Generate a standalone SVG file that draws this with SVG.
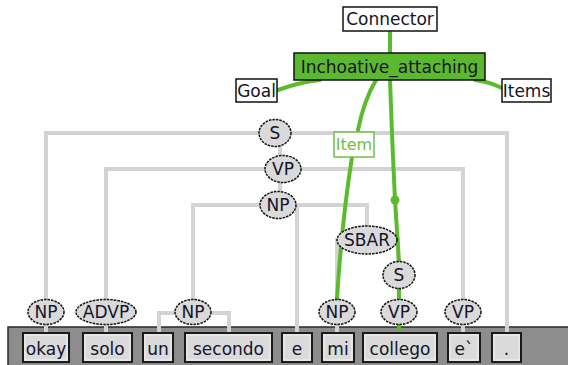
<svg xmlns="http://www.w3.org/2000/svg" width="568" height="365" viewBox="0 0 568 365">
<style>
text{font-family:"DejaVu Sans","Liberation Sans",sans-serif;fill:#14142a;text-anchor:middle}
.lbl{font-size:17px}
.cat{font-size:17px}
.box{fill:#fff;stroke:#111;stroke-width:1.5}
.word{fill:#dadada;stroke:#1a1a1a;stroke-width:2}
.inner{fill:none;stroke:#f2f2f2;stroke-width:1}
.ell{fill:#dadada;stroke:#111;stroke-width:1.5;stroke-dasharray:2.5 1}
.tree{fill:none;stroke:#d3d3d3;stroke-width:4}
.green{fill:none;stroke:#5cbb2c;stroke-width:4;stroke-linecap:round}
</style>
<rect width="568" height="365" fill="#fff"/>
<g id="band"><rect x="8" y="327" width="562" height="40" fill="#8d8d8d"/><path d="M8 366 V327 H568" fill="none" stroke="#2a2a2a" stroke-width="1.5"/></g>
<g id="tree-connectors">
<path class="tree" d="M46 300 V133 H507 V333"/>
<path class="tree" d="M106 300 V169 H463 V300"/>
<path class="tree" d="M193 300 V205 H367 V228"/>
<path class="tree" d="M297 205 V333"/>
<path class="tree" d="M280 133 V205"/>
<path class="tree" d="M337 300 V240 H398 V262"/>
<path class="tree" d="M159 333 V313 H229 V333"/>
<path class="tree" d="M399 275 V333"/>
<path class="tree" d="M46 312 V333 M106 312 V333 M337 312 V333 M463 312 V333"/>
</g>
<g id="frame-connectors">
<path class="green" d="M390 30 V53"/>
<path class="green" d="M320 80 Q300 82 278 90"/>
<path class="green" d="M475 80 Q490 82 502 88"/>
<path class="green" d="M376 80 Q364 100 358 130"/>
<path class="green" d="M352 157 Q342 220 337 299"/>
<path class="green" d="M390 80 Q392 140 395 200 L399 262"/>
<path class="green" d="M399 288 V299 M399 325 V333"/>
<circle cx="395" cy="200" r="4.5" fill="#5cbb2c"/>
</g>
<g id="connector"><rect class="box" x="343" y="7" width="94" height="24"/><text class="lbl" x="390" y="25">Connector</text></g>
<g id="frame"><rect x="294" y="53" width="191" height="27" fill="#5cb82e" stroke="#111" stroke-width="1.5"/><text class="lbl" x="389.5" y="73">Inchoative_attaching</text></g>
<g id="goal"><rect class="box" x="236" y="79" width="41" height="23"/><text class="lbl" x="256.5" y="97">Goal</text></g>
<g id="items"><rect class="box" x="502" y="79" width="49" height="23"/><text class="lbl" x="526.5" y="97">Items</text></g>
<g id="item"><rect x="334" y="132" width="40" height="25" fill="#fff" stroke="#6cc04a" stroke-width="1.5"/><text class="cat" x="354" y="150" style="fill:#6cc04a;font-size:16px">Item</text></g>
<g id="n-S"><ellipse class="ell" cx="275" cy="133" rx="16" ry="13.5"/><text class="cat" x="275" y="139">S</text></g>
<g id="n-VP"><ellipse class="ell" cx="283" cy="169" rx="18" ry="13.5"/><text class="cat" x="283" y="175">VP</text></g>
<g id="n-NP"><ellipse class="ell" cx="278" cy="205" rx="18" ry="13.5"/><text class="cat" x="278" y="211">NP</text></g>
<g id="n-SBAR"><ellipse class="ell" cx="367" cy="240" rx="30" ry="14"/><text class="cat" x="367" y="246">SBAR</text></g>
<g id="n-S2"><ellipse class="ell" cx="399" cy="275" rx="16" ry="13.5"/><text class="cat" x="399" y="281">S</text></g>
<g id="n-NP1"><ellipse class="ell" cx="46" cy="312" rx="18" ry="12.5"/><text class="cat" x="46" y="318">NP</text></g>
<g id="n-ADVP"><ellipse class="ell" cx="106" cy="312" rx="30" ry="12.5"/><text class="cat" x="106" y="318">ADVP</text></g>
<g id="n-NP2"><ellipse class="ell" cx="193" cy="312" rx="18" ry="12.5"/><text class="cat" x="193" y="318">NP</text></g>
<g id="n-NP3"><ellipse class="ell" cx="337" cy="312" rx="18" ry="12.5"/><text class="cat" x="337" y="318">NP</text></g>
<g id="n-VP2"><ellipse class="ell" cx="399" cy="312" rx="18" ry="12.5"/><text class="cat" x="399" y="318">VP</text></g>
<g id="n-VP3"><ellipse class="ell" cx="463" cy="312" rx="18" ry="12.5"/><text class="cat" x="463" y="318">VP</text></g>
<g id="w-okay"><rect class="word" x="23" y="333" width="46" height="29"/><rect class="inner" x="25" y="335" width="42" height="25"/><text class="lbl" x="46" y="355">okay</text></g>
<g id="w-solo"><rect class="word" x="83" y="333" width="49" height="29"/><rect class="inner" x="85" y="335" width="45" height="25"/><text class="lbl" x="107.5" y="355">solo</text></g>
<g id="w-un"><rect class="word" x="143" y="333" width="30" height="29"/><rect class="inner" x="145" y="335" width="26" height="25"/><text class="lbl" x="158" y="355">un</text></g>
<g id="w-secondo"><rect class="word" x="185" y="333" width="87" height="29"/><rect class="inner" x="187" y="335" width="83" height="25"/><text class="lbl" x="228.5" y="355">secondo</text></g>
<g id="w-e"><rect class="word" x="282" y="333" width="30" height="29"/><rect class="inner" x="284" y="335" width="26" height="25"/><text class="lbl" x="297" y="355">e</text></g>
<g id="w-mi"><rect class="word" x="322" y="333" width="32" height="29"/><rect class="inner" x="324" y="335" width="28" height="25"/><text class="lbl" x="338" y="355">mi</text></g>
<g id="w-collego"><rect class="word" x="363" y="333" width="74" height="29"/><rect class="inner" x="365" y="335" width="70" height="25"/><text class="lbl" x="400" y="355">collego</text></g>
<g id="w-e2"><rect class="word" x="448" y="333" width="32" height="29"/><rect class="inner" x="450" y="335" width="28" height="25"/><text class="lbl" x="464" y="355">e`</text></g>
<g id="w-dot"><rect class="word" x="492" y="333" width="29" height="29"/><rect class="inner" x="494" y="335" width="25" height="25"/><text class="lbl" x="506.5" y="355">.</text></g>
</svg>
